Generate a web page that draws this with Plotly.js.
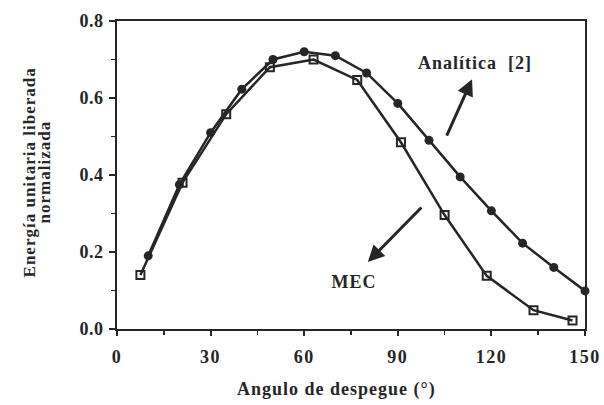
<!DOCTYPE html>
<html>
<head>
<meta charset="utf-8">
<script src="https://cdn.plot.ly/plotly-3.0.1.min.js"></script>
<style>
html,body{margin:0;padding:0;background:#fff;}
#chart{width:604px;height:405px;}
#chart .xtick text{letter-spacing:1.5px;}
#chart .ytick text{letter-spacing:0.5px;}
#chart .annotation-text{letter-spacing:1px;}
</style>
</head>
<body>
<div id="chart"></div>
<script>
// Analítica [2]
const anaAngle = [10, 20, 30, 40, 50, 60, 70, 80, 90, 100, 110, 120, 130, 140, 150];
const anaEnergy = [0.19, 0.375, 0.51, 0.623, 0.70, 0.72, 0.71, 0.665, 0.586, 0.49, 0.395, 0.307, 0.223, 0.16, 0.099];
// MEC
const mecAngle = [7.5, 21, 35, 49, 63, 77, 91, 105, 118.5, 133.5, 146];
const mecEnergy = [0.14, 0.38, 0.558, 0.68, 0.70, 0.647, 0.485, 0.296, 0.138, 0.049, 0.022];
const xTicks = [0, 30, 60, 90, 120, 150];
const yTicks = [0.0, 0.2, 0.4, 0.6, 0.8];
const yTickText = ['0.0', '0.2', '0.4', '0.6', '0.8'];

const ink = '#262626';
const serif = 'Liberation Serif';
const b = s => '<b>' + s + '</b>';

const traces = [
  {
    x: anaAngle, y: anaEnergy, type: 'scatter', mode: 'lines+markers', name: 'Analítica [2]',
    line: {color: ink, width: 2.5},
    marker: {symbol: 'circle', size: 9, color: ink},
    cliponaxis: false
  },
  {
    x: mecAngle, y: mecEnergy, type: 'scatter', mode: 'lines+markers', name: 'MEC',
    line: {color: ink, width: 2.5},
    marker: {symbol: 'square-open', size: 8, color: ink, line: {width: 2, color: ink}},
    cliponaxis: false
  }
];

const layout = {
  width: 604, height: 405,
  margin: {l: 117, r: 19, t: 21, b: 76},
  paper_bgcolor: '#fff', plot_bgcolor: '#fff',
  showlegend: false,
  font: {family: serif, color: ink, size: 14},
  xaxis: {
    range: [0, 150], tickvals: xTicks, ticktext: xTicks.map(v => b(String(v))),
    ticks: 'outside', ticklen: 5, tickwidth: 2, tickcolor: ink,
    minor: {dtick: 15, ticks: 'outside', ticklen: 4, tickwidth: 1.5, tickcolor: ink},
    showline: true, linewidth: 2, linecolor: ink, mirror: true,
    showgrid: false, zeroline: false,
    ticklabelstandoff: 5,
    tickfont: {family: serif, size: 18, color: ink}
  },
  yaxis: {
    range: [0, 0.8], tickvals: yTicks, ticktext: yTickText.map(b),
    ticks: 'outside', ticklen: 6, tickwidth: 2, tickcolor: ink,
    minor: {dtick: 0.1, ticks: 'outside', ticklen: 4, tickwidth: 1.5, tickcolor: ink},
    showline: true, linewidth: 2, linecolor: ink, mirror: true,
    showgrid: false, zeroline: false,
    ticklabelstandoff: 2,
    tickfont: {family: serif, size: 18, color: ink}
  },
  annotations: [
    {xref: 'paper', yref: 'paper', x: (30 - 117) / 468, y: 0.51, text: b('Energía unitaria liberada'),
     textangle: -90, showarrow: false, font: {family: serif, size: 17, color: ink},
     xanchor: 'center', yanchor: 'middle'},
    {xref: 'paper', yref: 'paper', x: (45 - 117) / 468, y: 0.51, text: b('normalizada'),
     textangle: -90, showarrow: false, font: {family: serif, size: 17, color: ink},
     xanchor: 'center', yanchor: 'middle'},
    {xref: 'paper', yref: 'paper', x: 0.468, y: -0.198, text: b('Angulo de despegue (°)'),
     showarrow: false, font: {family: serif, size: 18, color: ink},
     xanchor: 'center', yanchor: 'middle'},
    {x: 114.7, y: 0.69, text: b('Analítica  [2]'), showarrow: false,
     font: {family: serif, size: 18, color: ink}},
    {x: 76, y: 0.122, text: b('MEC'), showarrow: false,
     font: {family: serif, size: 18, color: ink}},
    {x: 113.8, y: 0.649, text: '', showarrow: true, ax: -26, ay: 58,
     arrowhead: 2, arrowsize: 1.1, arrowwidth: 3, arrowcolor: ink, standoff: 0},
    {x: 80.4, y: 0.174, text: '', showarrow: true, ax: 55, ay: -56,
     arrowhead: 2, arrowsize: 1.1, arrowwidth: 3, arrowcolor: ink, standoff: 0}
  ]
};

Plotly.newPlot('chart', traces, layout, {displayModeBar: false, staticPlot: true});
</script>
</body>
</html>
